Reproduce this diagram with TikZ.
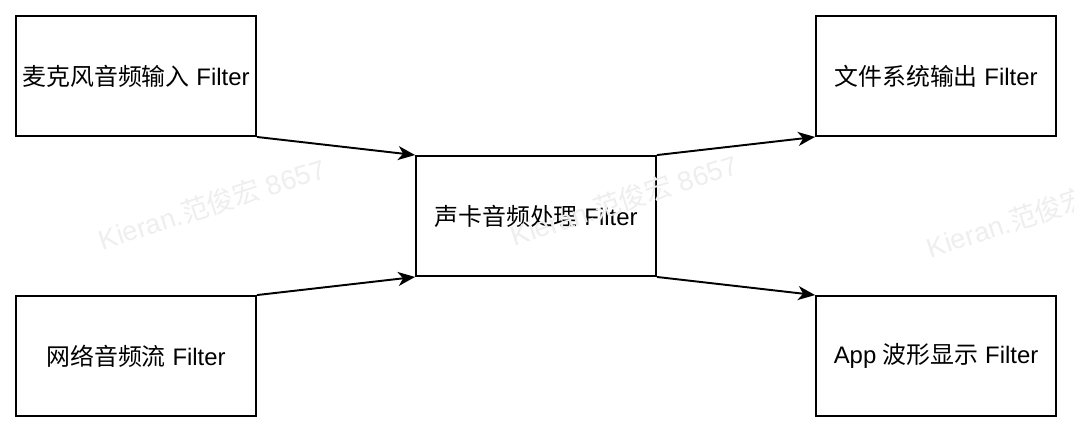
\documentclass[tikz,border=0pt]{standalone}
\usepackage{fontspec}
\setmainfont{Liberation Sans}
\newfontfamily\cjk{Noto Sans CJK SC}
\usepackage{tikz}
\usetikzlibrary{arrows.meta,positioning}
\definecolor{markgray}{RGB}{238,238,238}

\begin{document}
\begin{tikzpicture}[
    x=0.02cm, y=-0.02cm,
    filterbox/.style={rectangle, draw, line width=1.1pt, fill=white, minimum width=4.8cm, minimum height=2.4cm, align=center, font=\fontsize{13.6}{16}\selectfont},
    flow/.style={-{Stealth[length=0.34cm, width=0.28cm, inset=0.1cm]}, line width=1.1pt},
    wmark/.style={text=markgray, rotate=18, font=\fontsize{15.5}{18}\selectfont}
]
\clip (0,0) rectangle (1074,434);
\useasboundingbox (0,0) rectangle (1074,434);

% sources, processing, sinks
\node[filterbox] (mic) at (136,76) {{\cjk 麦克风音频输入} Filter};
\node[filterbox] (net) at (136,356) {{\cjk 网络音频流} Filter};
\node[filterbox] (card) at (536,216) {{\cjk 声卡音频处理} Filter};
\node[filterbox] (file) at (936,76) {{\cjk 文件系统输出} Filter};
\node[filterbox] (wave) at (936,356) {App {\cjk 波形显示} Filter};

\draw[flow] (mic.south east) -- (card.north west);
\draw[flow] (net.north east) -- (card.south west);
\draw[flow] (card.north east) -- (file.south west);
\draw[flow] (card.south east) -- (wave.north west);

% watermark
\node[wmark] (mark1) at (212,204) {Kieran.{\cjk 范俊宏} 8657};
\node[wmark] (mark2) at (624,200) {Kieran.{\cjk 范俊宏} 8657};
\node[wmark] (mark3) at (1040,212) {Kieran.{\cjk 范俊宏} 8657};
\end{tikzpicture}
\end{document}
